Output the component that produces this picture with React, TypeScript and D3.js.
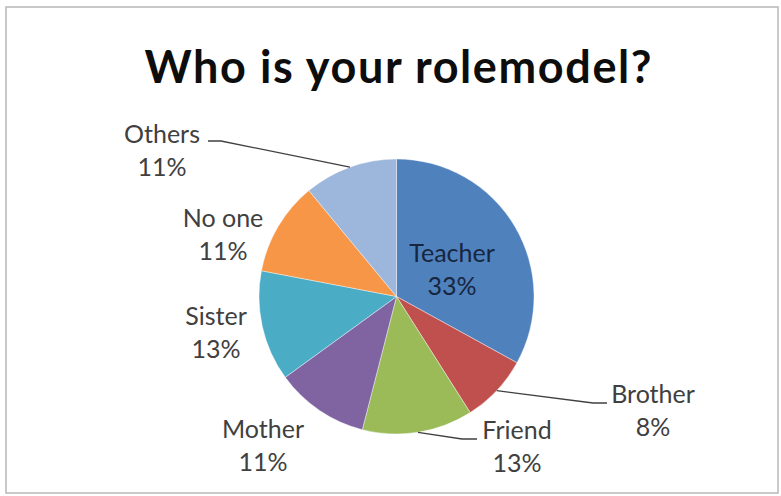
import React from "react";
import * as d3 from "d3";

const categories = ["Teacher", "Brother", "Friend", "Mother", "Sister", "No one", "Others"];
const values = [33, 8, 13, 11, 13, 11, 11];
const colors = ["#4F81BD", "#C0504D", "#9BBB59", "#8064A2", "#4BACC6", "#F79646", "#9DB6DC"];
const title = "Who is your rolemodel?";

// label layout: center x, first baseline, optional leader [startX, elbowX, y]
const labelLayout: Record<string, { x: number; y: number; leader?: [number, number, number] }> = {
  Teacher: { x: 452, y: 262 },
  Brother: { x: 653, y: 403, leader: [607, 593, 403] },
  Friend: { x: 517, y: 439, leader: [477, 462, 439] },
  Mother: { x: 263, y: 438 },
  Sister: { x: 216, y: 325 },
  "No one": { x: 223, y: 227 },
  Others: { x: 162, y: 143, leader: [208, 221, 141] },
};

export default function App() {
  const W = 781, H = 496;
  const cx = 396.5, cy = 296.5, r = 137.5;
  const pie = d3.pie<number>().sort(null).value((d) => d);
  const arcs = pie(values);
  const arc = d3.arc<d3.PieArcDatum<number>>().innerRadius(0).outerRadius(r);
  const edge = d3.arc<d3.PieArcDatum<number>>().innerRadius(r).outerRadius(r);
  const total = d3.sum(values);
  const font = "Lato, 'Open Sans', sans-serif";

  return (
    <svg width={W} height={H} style={{ position: "absolute", left: 0, top: 0 }}>
      <rect x={0} y={0} width={W} height={H} fill="#fff" />
      <rect x={6} y={7} width={772} height={486} fill="#fff" stroke="#b8b8b8" strokeWidth={1.5} />
      <text x={398} y={83} textAnchor="middle" fontFamily={font} fontWeight={700} fontSize={45}
        textLength={507} lengthAdjust="spacing" fill="#0d0d0d">
        {title}
      </text>
      <g transform={`translate(${cx},${cy})`}>
        {arcs.map((a, i) => (
          <path key={i} d={arc(a) || ""} fill={colors[i]} stroke="#fff" strokeWidth={0.4} />
        ))}
      </g>
      {arcs.map((a, i) => {
        const name = categories[i];
        const lay = labelLayout[name];
        if (!lay.leader) return null;
        const [ex, ey] = edge.centroid(a);
        const [x0, x1, y] = lay.leader;
        return (
          <polyline
            key={"l" + i}
            points={`${x0},${y} ${x1},${y} ${cx + ex},${cy + ey}`}
            fill="none"
            stroke="#404040"
            strokeWidth={1.3}
          />
        );
      })}
      {arcs.map((a, i) => {
        const name = categories[i];
        const lay = labelLayout[name];
        const pct = Math.round((values[i] / total) * 100) + "%";
        const inside = name === "Teacher";
        return (
          <text
            key={"t" + i}
            x={lay.x}
            y={lay.y}
            textAnchor="middle"
            fontFamily={font}
            fontSize={25}
            fill={inside ? "#17263f" : "#404040"}
          >
            <tspan x={lay.x}>{name}</tspan>
            <tspan x={lay.x} dy={33}>{pct}</tspan>
          </text>
        );
      })}
    </svg>
  );
}
